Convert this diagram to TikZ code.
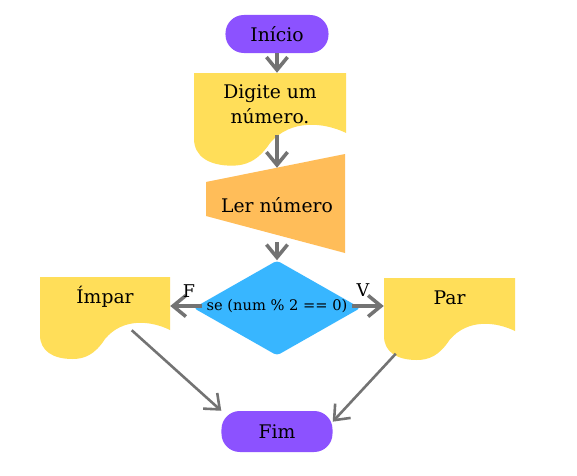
\documentclass[tikz,border=0pt]{standalone}
\usepackage{fontspec}
\setmainfont{DejaVu Serif}
\usetikzlibrary{arrows.meta,shapes.geometric}

\definecolor{termpurple}{HTML}{8C52FF}
\definecolor{docyellow}{HTML}{FFDE59}
\definecolor{readorange}{HTML}{FFBD59}
\definecolor{condblue}{HTML}{38B6FF}
\definecolor{arrowgray}{HTML}{737373}

% yellow paper: top left x, top left y, width, vertical scale
\newcommand{\docpaper}[4]{%
	\fill[docyellow,shift={(#1,#2)},xscale=#3,yscale=#4] (0,0) -- (1,0) -- (1,53)
		.. controls (0.86,44) and (0.64,40) .. (0.5,62)
		.. controls (0.42,78) and (0.34,82) .. (0.25,82)
		.. controls (0.1,82) and (0,74) .. (0,58) -- cycle;}

\begin{document}
\begin{tikzpicture}[x=0.03cm,y=-0.03cm,
	font=\fontsize{16}{21}\selectfont,
	terminal/.style={fill=termpurple, rounded corners=0.55cm},
	docbox/.style={minimum height=1.59cm, text height=0.4cm, text depth=0.4cm},
	flow/.style={draw=arrowgray, line width=3pt, -{Straight Barb[length=11pt,width=18pt]}},
	thinflow/.style={flow, line width=2.2pt}]
	\fill[white] (0,0) rectangle (577,476);
	\useasboundingbox (0,0) rectangle (577,476);

	%shapes
	\docpaper{194}{73}{152}{1.13}		%digite
	\fill[readorange] (206,182) -- (345,154) -- (345,253) -- (206,216) -- cycle;	%trapezoid
	\docpaper{40}{277}{130}{1}			%impar
	\docpaper{384}{278}{131}{1}			%par

	%nodes
	\node[terminal, minimum width=3.09cm, minimum height=1.14cm] (inicio) at (277,34) {Início};
	\node[minimum width=4.56cm, minimum height=1.86cm, align=center] (digite) at (270,104) {Digite um\\número.};
	\node[minimum height=2.22cm] (ler) at (277,205) {Ler número};
	\node[diamond, fill=condblue, minimum width=5.01cm, minimum height=2.85cm, inner sep=0pt, rounded corners=3pt] (condshape) at (277,308) {};
	\node[font=\fontsize{12.5}{14}\selectfont] (cond) at (277,306) {se (num \% 2 == 0)};
	\node[docbox, minimum width=3.9cm] (impar) at (105,303.5) {Ímpar};
	\node[docbox, minimum width=3.93cm] (par) at (449.5,304) {Par};
	\node[terminal, minimum width=3.33cm, minimum height=1.23cm] (fim) at (277,431.5) {Fim};

	%arrows
	\draw[flow] (inicio) -- (inicio |- digite.north);
	\draw[flow] (digite.south -| ler) -- (ler);
	\draw[flow] (ler) -- (condshape);
	\draw[flow] (cond.west) -- (cond.west -| impar.east);
	\draw[flow] (cond.east) -- (cond.east -| par.west);
	\draw[thinflow] (impar.-45) -- (fim.north west);
	\draw[thinflow] ([xshift=0.36cm,yshift=-0.69cm]par.south west) -- (fim.10);

	%labels
	\node[font=\fontsize{15}{17}\selectfont] (flabel) at (189,291) {F};
	\node[font=\fontsize{15}{17}\selectfont] (vlabel) at (363,290) {V};
\end{tikzpicture}
\end{document}
